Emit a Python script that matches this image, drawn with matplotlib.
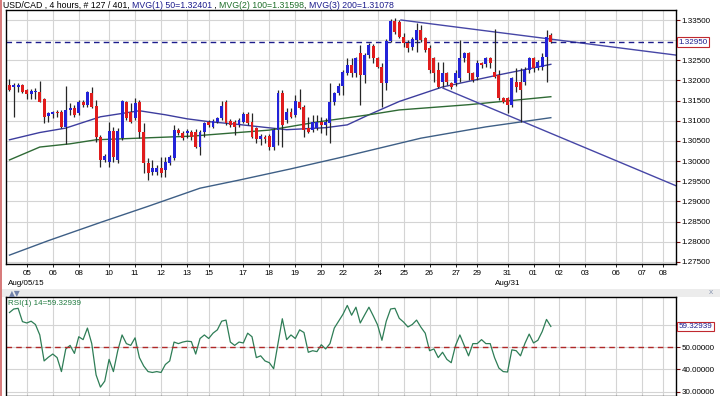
import numpy as np
import matplotlib.pyplot as plt
from matplotlib.patches import Rectangle

plt.rcParams['font.family'] = ['Liberation Sans', 'DejaVu Sans']

# 4 hour candles, USD/CAD (index 0 = first visible bar)
opens = [1.31888, 1.31847, 1.31847, 1.31888, 1.31765, 1.31657, 1.31715, 1.31723, 1.31533, 1.31120,
         1.31170, 1.31228, 1.31228, 1.30856, 1.31269, 1.31310, 1.31186, 1.31475, 1.31393, 1.31682,
         1.31376, 1.30608, 1.30030, 1.29989, 1.30757, 1.30030, 1.30567, 1.31475, 1.31228, 1.31063,
         1.31475, 1.30732, 1.29947, 1.29741, 1.29741, 1.29824, 1.29782, 1.29947, 1.30071, 1.30773,
         1.30707, 1.30691, 1.30732, 1.30732, 1.30360, 1.30732, 1.30980, 1.30856, 1.30980, 1.31063,
         1.31459, 1.30997, 1.30964, 1.30898, 1.30981, 1.31162, 1.30981, 1.30816, 1.30551, 1.30609,
         1.30634, 1.30361, 1.30774, 1.31683, 1.31022, 1.31229, 1.31146, 1.31460, 1.31353, 1.30816,
         1.30774, 1.30816, 1.30981, 1.30898, 1.30939, 1.31460, 1.31683, 1.31873, 1.32178, 1.32385,
         1.32178, 1.32674, 1.32137, 1.32633, 1.32864, 1.32550, 1.32344, 1.31931, 1.32980, 1.33475,
         1.33459, 1.33087, 1.32922, 1.32839, 1.33004, 1.33252, 1.33046, 1.32798, 1.32550, 1.32261,
         1.31972, 1.32178, 1.31931, 1.31931, 1.32054, 1.32550, 1.32674, 1.32178, 1.32096, 1.32426,
         1.32402, 1.32550, 1.32220, 1.32137, 1.31559, 1.31559, 1.31394, 1.31972, 1.31972, 1.31972,
         1.32261, 1.32550, 1.32302, 1.32344, 1.32592, 1.33128]
highs = [1.32029, 1.31930, 1.31946, 1.31913, 1.31789, 1.31781, 1.31806, 1.31979, 1.31558, 1.31228,
         1.31252, 1.31269, 1.31269, 1.31864, 1.31451, 1.31393, 1.31517, 1.31517, 1.31748, 1.31847,
         1.31517, 1.30650, 1.30170, 1.30980, 1.30856, 1.30815, 1.31517, 1.31500, 1.31434, 1.31558,
         1.31517, 1.30939, 1.30071, 1.30030, 1.29906, 1.30113, 1.30113, 1.30154, 1.30897, 1.30815,
         1.30757, 1.30790, 1.30773, 1.30790, 1.30773, 1.30980, 1.31021, 1.31038, 1.31104, 1.31500,
         1.31517, 1.31047, 1.31022, 1.31063, 1.31212, 1.31229, 1.31187, 1.30857, 1.30667, 1.30650,
         1.30667, 1.30816, 1.31766, 1.31766, 1.31311, 1.31311, 1.31642, 1.31790, 1.31394, 1.31105,
         1.31146, 1.31146, 1.31105, 1.31063, 1.31931, 1.31724, 1.31931, 1.32261, 1.32567, 1.32550,
         1.32592, 1.32881, 1.32674, 1.32922, 1.32897, 1.32592, 1.32426, 1.33029, 1.33525, 1.33541,
         1.33500, 1.33170, 1.33004, 1.33087, 1.33417, 1.33376, 1.33087, 1.32881, 1.32592, 1.32468,
         1.32468, 1.32220, 1.31972, 1.32261, 1.33004, 1.32715, 1.32715, 1.32220, 1.32509, 1.32468,
         1.32592, 1.32592, 1.33269, 1.32261, 1.31600, 1.31600, 1.32096, 1.32302, 1.32302, 1.32344,
         1.32592, 1.32592, 1.32509, 1.32674, 1.33252, 1.33170]
lows = [1.31748, 1.31087, 1.31723, 1.31682, 1.31533, 1.31533, 1.31550, 1.31459, 1.30939, 1.30980,
        1.31063, 1.31104, 1.30815, 1.30418, 1.31145, 1.31104, 1.31145, 1.31352, 1.31352, 1.31310,
        1.30484, 1.29865, 1.29972, 1.29865, 1.29989, 1.29964, 1.30526, 1.31021, 1.30939, 1.31021,
        1.30567, 1.29700, 1.29534, 1.29658, 1.29658, 1.29617, 1.29617, 1.29906, 1.30030, 1.30650,
        1.30526, 1.30567, 1.30526, 1.30319, 1.30154, 1.30608, 1.30856, 1.30815, 1.30939, 1.31021,
        1.30897, 1.30857, 1.30650, 1.30857, 1.30939, 1.30898, 1.30568, 1.30444, 1.30403, 1.30444,
        1.30279, 1.30279, 1.30403, 1.30361, 1.30939, 1.31063, 1.31105, 1.31295, 1.30609, 1.30692,
        1.30733, 1.30774, 1.30692, 1.30650, 1.30444, 1.31394, 1.31642, 1.31642, 1.32137, 1.32096,
        1.32096, 1.31394, 1.31931, 1.32550, 1.32426, 1.32302, 1.31353, 1.31766, 1.32963, 1.33145,
        1.33046, 1.32839, 1.32715, 1.32757, 1.32715, 1.32963, 1.32715, 1.32178, 1.31972, 1.31807,
        1.31848, 1.31889, 1.31790, 1.31873, 1.31972, 1.32468, 1.32013, 1.31972, 1.32013, 1.32302,
        1.32344, 1.32302, 1.32054, 1.31518, 1.31435, 1.31187, 1.31353, 1.31724, 1.30981, 1.31889,
        1.32178, 1.32220, 1.32261, 1.32261, 1.31972, 1.32922]
closes = [1.31765, 1.31880, 1.31897, 1.31707, 1.31657, 1.31748, 1.31748, 1.31475, 1.31104, 1.31186,
          1.31228, 1.31186, 1.30856, 1.31269, 1.31310, 1.31145, 1.31475, 1.31393, 1.31707, 1.31352,
          1.30608, 1.30030, 1.30137, 1.30757, 1.30113, 1.30757, 1.31500, 1.31063, 1.30980, 1.31434,
          1.30732, 1.29947, 1.29700, 1.29824, 1.29824, 1.29700, 1.29989, 1.30113, 1.30773, 1.30691,
          1.30567, 1.30749, 1.30608, 1.30360, 1.30732, 1.30939, 1.30897, 1.30996, 1.31063, 1.31376,
          1.30939, 1.30898, 1.30857, 1.31022, 1.31162, 1.30939, 1.30609, 1.30551, 1.30634, 1.30551,
          1.30361, 1.30774, 1.31683, 1.30898, 1.31229, 1.31105, 1.31493, 1.31328, 1.30774, 1.30717,
          1.30981, 1.30981, 1.30898, 1.30981, 1.31460, 1.31683, 1.31873, 1.32203, 1.32385, 1.32178,
          1.32550, 1.32137, 1.32633, 1.32881, 1.32550, 1.32344, 1.31931, 1.32980, 1.33475, 1.33195,
          1.33087, 1.32922, 1.32798, 1.33029, 1.33252, 1.33004, 1.32757, 1.32261, 1.32178, 1.31848,
          1.32178, 1.31972, 1.31848, 1.32178, 1.32550, 1.32674, 1.32178, 1.32013, 1.32426, 1.32385,
          1.32550, 1.32426, 1.32096, 1.31559, 1.31477, 1.31394, 1.32054, 1.31848, 1.31766, 1.32261,
          1.32550, 1.32302, 1.32468, 1.32592, 1.33087, 1.32950]

# moving averages, read at a few bars
ma50_idx = [0, 7, 13, 21, 30, 36, 41, 46, 52, 64, 73, 78, 83, 90, 95, 100, 113, 125]
ma50_val = [1.3053, 1.3071, 1.3082, 1.3110, 1.3125, 1.3115, 1.3105, 1.3098, 1.3092, 1.3078,
            1.3083, 1.3090, 1.3115, 1.3148, 1.3166, 1.3184, 1.3214, 1.32401]
ma100_idx = [0, 7, 14, 20, 42, 60, 71, 83, 90, 106, 125]
ma100_val = [1.3003, 1.3035, 1.3043, 1.3053, 1.3062, 1.3077, 1.3097, 1.3115, 1.3127, 1.3140, 1.31598]
ma200_idx = [0, 9, 21, 32, 44, 53, 65, 76, 95, 110, 125]
ma200_val = [1.2767, 1.2803, 1.2848, 1.2888, 1.2933, 1.2953, 1.2981, 1.3008, 1.3057, 1.3085, 1.31078]

# trend lines
res_idx = [90.4, 153.9]
res_val = [1.3350, 1.3263]
sup_idx = [100.1, 153.9]
sup_val = [1.3181, 1.2939]
last_price = 1.32950

rsi = [65.6, 67.2, 67.5, 61.5, 60.9, 61.7, 60.2, 55.5, 43.8, 45.5,
       46.9, 45.3, 39.0, 49.2, 50.8, 47.2, 54.7, 53.4, 58.6, 51.6,
       37.5, 32.0, 34.7, 44.5, 39.0, 48.4, 55.5, 51.6, 50.8, 54.2,
       45.3, 41.5, 39.0, 38.6, 39.0, 38.6, 42.2, 43.8, 52.3, 51.6,
       52.3, 52.7, 52.5, 46.9, 53.9, 55.5, 53.9, 56.3, 57.8, 61.7,
       62.2, 52.3, 50.8, 52.3, 51.9, 56.3, 54.7, 45.3, 46.1, 43.8,
       43.0, 40.3, 51.6, 62.8, 53.4, 55.5, 53.9, 57.8, 56.6, 47.7,
       48.4, 48.0, 51.1, 49.2, 51.6, 58.6, 61.7, 64.8, 68.8, 64.4,
       68.0, 60.9, 64.5, 68.0, 64.1, 60.0, 53.1, 61.7, 67.2, 67.5,
       63.0, 61.3, 59.1, 60.2, 62.2, 59.0, 56.3, 48.4, 49.2, 45.3,
       47.7, 44.5, 43.0, 50.8, 55.5, 50.8, 46.1, 51.6, 51.6, 53.4,
       51.6, 51.6, 45.3, 40.6, 39.0, 38.8, 48.8, 48.4, 46.1, 51.6,
       55.9, 51.9, 53.1, 57.0, 62.5, 59.32939]

day_pos = [4, 10, 16, 23, 29, 35, 41, 46, 54, 60, 66, 72, 77, 85, 91, 97, 103, 108, 115, 121, 127, 133, 140, 146, 151]
day_lab = ['05', '06', '08', '10', '11', '12', '13', '15', '17', '18', '19', '20', '22',
           '24', '25', '26', '27', '29', '31', '01', '02', '03', '06', '07', '08']
month_pos = [4, 115]
month_lab = ['Aug/05/15', 'Aug/31']

price_ticks = [1.275, 1.280, 1.285, 1.290, 1.295, 1.300, 1.305, 1.310, 1.315, 1.320, 1.325, 1.330, 1.335]

navy = '#1c1c8c'
green = '#1f6f2a'
grid_c = '#d4d4d4'
fs = 5.8

W, H = 720, 396
fig = plt.figure(figsize=(W / 100, H / 100), dpi=100)
fig.patch.set_facecolor('white')

ax = fig.add_axes([6 / W, 1 - 264 / H, 670 / W, 254 / H])
ax2 = fig.add_axes([6 / W, 1 - 396 / H, 670 / W, 99 / H], sharex=ax)

o = np.array(opens)
c = np.array(closes)
hi = np.array(highs)
lo = np.array(lows)
idx = np.arange(len(o))
up = c >= o
cols = np.where(up, '#2323d8', '#e01c1c')

# wicks then bodies
ax.vlines(idx, lo, hi, color='#262626', lw=0.9, zorder=3)
body = np.maximum(np.abs(c - o), 0.00004)
ax.bar(idx, body, bottom=np.minimum(o, c), width=0.68, color=cols, lw=0, zorder=4)

ax.plot(ma50_idx, ma50_val, color='#3d3d9e', lw=1.0, zorder=2)
ax.plot(ma100_idx, ma100_val, color='#2f6a35', lw=1.0, zorder=2)
ax.plot(ma200_idx, ma200_val, color='#3e5f86', lw=1.0, zorder=2)
ax.plot(res_idx, res_val, color='#4646a6', lw=1.0, zorder=2)
ax.plot(sup_idx, sup_val, color='#4646a6', lw=1.0, zorder=2)
ax.axhline(last_price, color=navy, lw=1.0, ls=(0, (4, 3)), zorder=2)

ax.set_xlim(-0.8, 153.9)
ax.set_ylim(1.2745, 1.33748)
ax.set_yticks(price_ticks)
ax.set_yticklabels(['' if abs(v - 1.330) < 1e-9 else '%.5f' % v for v in price_ticks])
ax.yaxis.tick_right()
ax.set_xticks(day_pos)
ax.set_xticklabels(day_lab)
ax.grid(True, color=grid_c, lw=0.8)
ax.set_axisbelow(True)
ax.tick_params(axis='y', direction='out', length=3, width=0.8, pad=1, labelsize=fs, color='#7a1010')
ax.tick_params(axis='x', direction='out', length=2, width=0.6, pad=2, labelsize=fs)
for s in ax.spines.values():
    s.set_color('black')
    s.set_linewidth(1.0)

for p, lab in zip(month_pos, month_lab):
    ax.annotate(lab, xy=(p, 0), xycoords=('data', 'axes fraction'), xytext=(0, -14),
                textcoords='offset points', ha='center', va='center', fontsize=fs)

ax.text(1.004, (last_price - 1.2745) / (1.33748 - 1.2745), '%.5f' % last_price,
        transform=ax.transAxes, ha='left', va='center', fontsize=fs, color=navy,
        bbox=dict(boxstyle='square,pad=0.15', fc='white', ec='#c0282f', lw=0.8))

# RSI panel
ax2.plot(idx, rsi, color='#2e7d56', lw=0.9)
ax2.axhline(50, color='#b02828', lw=1.0, ls=(0, (4, 3)))
ax2.set_ylim(28.0, 72.6)
ax2.set_yticks([30, 40, 50, 60])
ax2.set_yticklabels(['30.00000', '40.00000', '50.00000', ''])
ax2.yaxis.tick_right()
ax2.grid(True, color=grid_c, lw=0.8)
ax2.set_axisbelow(True)
ax2.tick_params(axis='y', direction='out', length=3, width=0.8, pad=1, labelsize=fs, color='#7a1010')
ax2.tick_params(axis='x', length=0, labelbottom=False)
for s in ax2.spines.values():
    s.set_color('black')
    s.set_linewidth(1.0)
ax2.text(1.004, (rsi[-1] - 28.0) / (72.6 - 28.0), '%.5f' % rsi[-1], transform=ax2.transAxes,
         ha='left', va='center', fontsize=fs, color=navy,
         bbox=dict(boxstyle='square,pad=0.15', fc='white', ec='#c0282f', lw=0.8))
ax2.text(0.003, 0.93, 'RSI(1) 14=%.5f' % rsi[-1], transform=ax2.transAxes, ha='left',
         va='center', fontsize=fs, color='#1f7a3f')

# strip between panels
fig.add_artist(Rectangle((0, 1 - 297 / H), 1, 8 / H, transform=fig.transFigure,
                         color='#ececec', lw=0, zorder=0))
fig.text(9 / W, 1 - 293.5 / H, '\u25b2\u25bc', fontsize=5.5, color='#7282aa', va='center',
         family='DejaVu Sans')
fig.text(711 / W, 1 - 292.5 / H, 'x', fontsize=6, color='#8a96b0', va='center', ha='center')
fig.add_artist(Rectangle((0, 0), 2 / W, 1, transform=fig.transFigure, color='#d77b7b', lw=0))

# title in pieces, each with its own colour, chained left to right
tfs = 6.3
parts = [('USD/CAD , 4 hours, # 127 / 401, ', 'black'), ('MVG(1) 50=1.32401', navy),
         (' , ', 'black'), ('MVG(2) 100=1.31598', green), (', ', 'black'),
         ('MVG(3) 200=1.31078', navy)]
t = fig.text(3 / W, 1 - 5 / H, parts[0][0], fontsize=tfs, color=parts[0][1], va='center', ha='left')
for s, col in parts[1:]:
    t = ax.annotate(s, xy=(1, 0), xycoords=t, va='bottom', ha='left', fontsize=tfs,
                    color=col, annotation_clip=False)

fig.savefig('out.png', dpi=100)
